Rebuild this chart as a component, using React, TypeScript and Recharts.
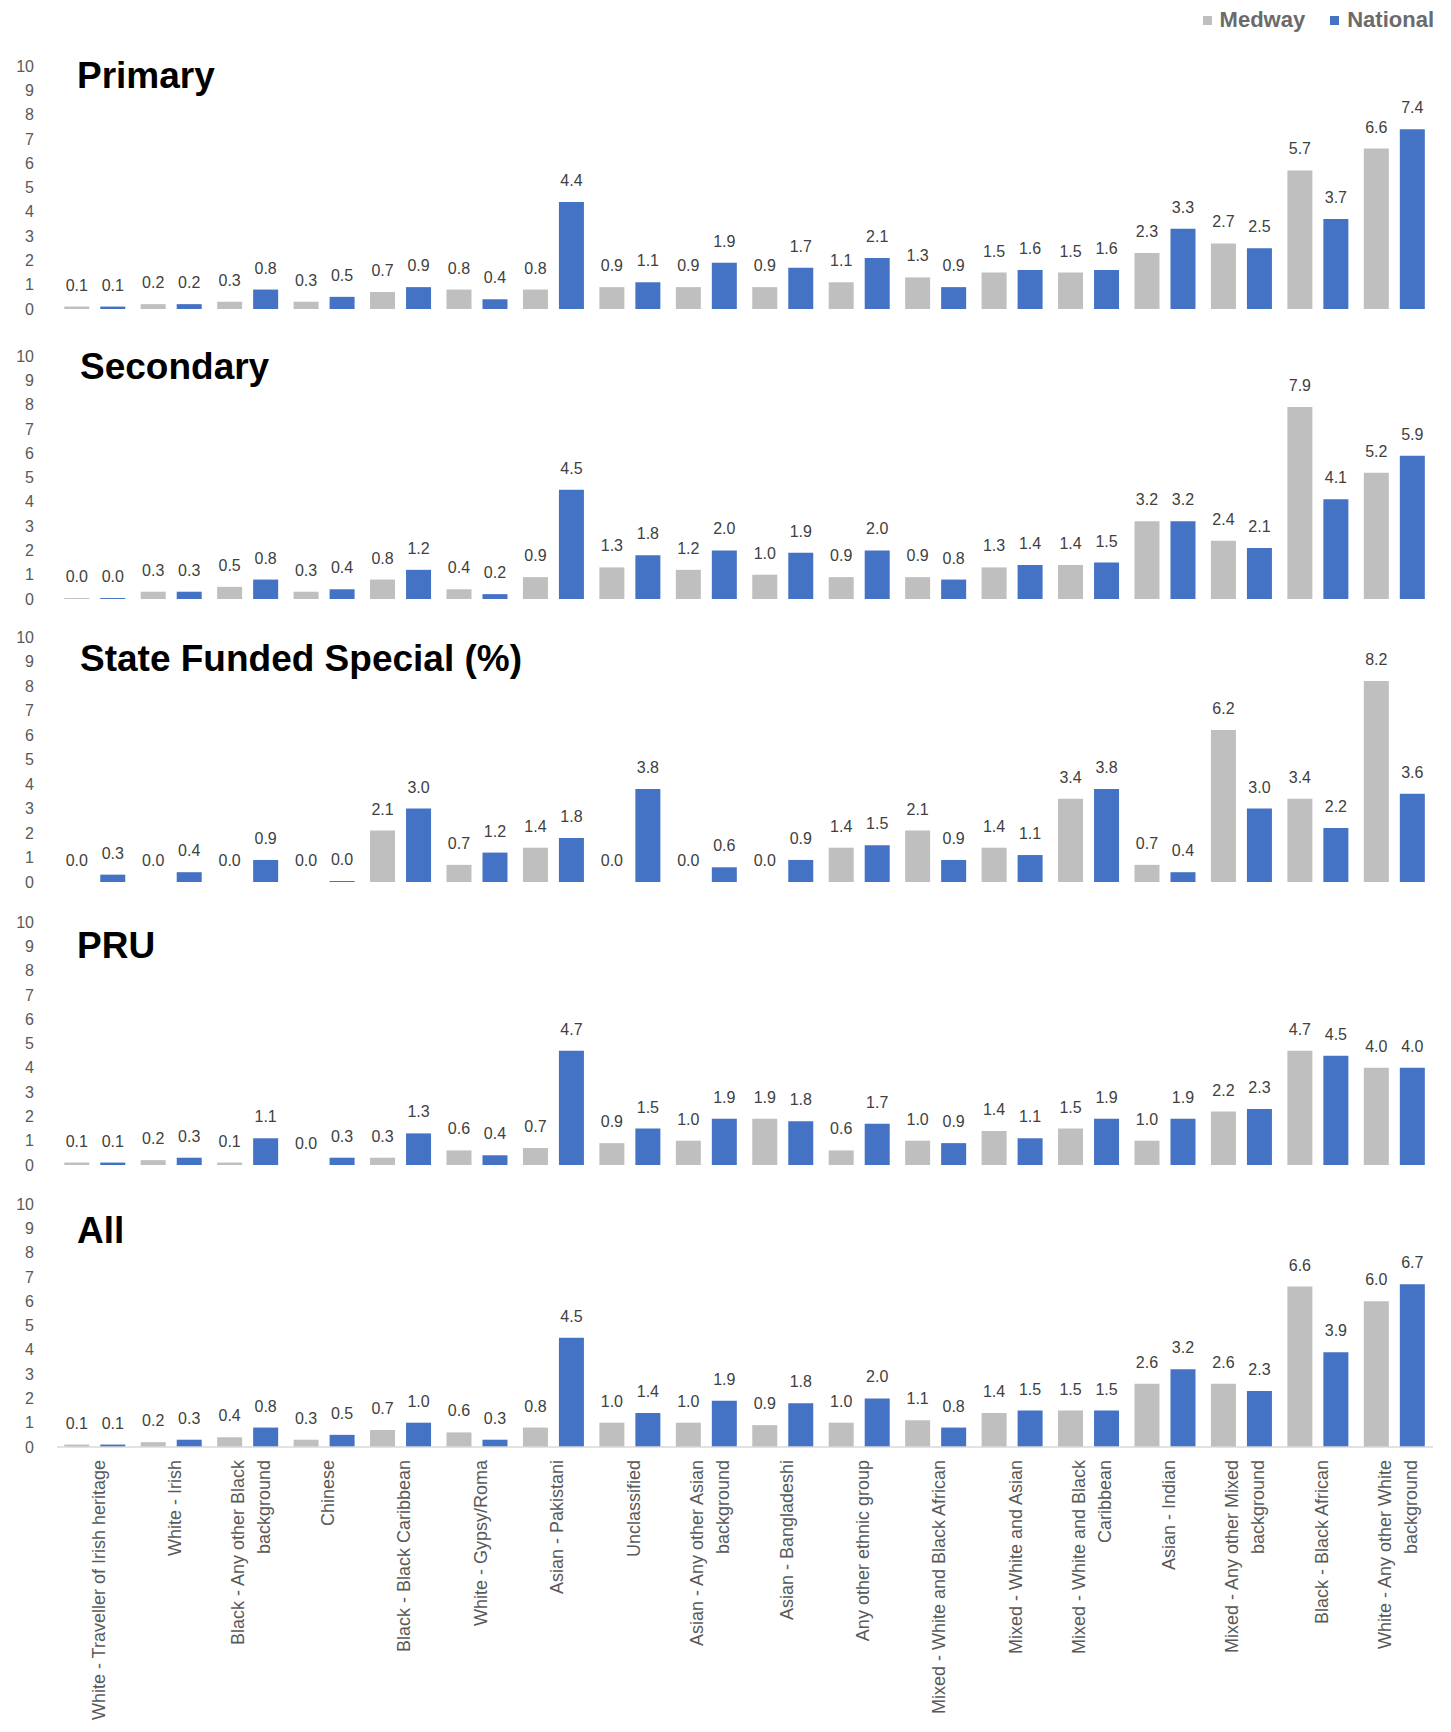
import React from "react";
import { BarChart, Bar, XAxis, YAxis, LabelList } from "recharts";

const categories = [
  "White - Traveller of Irish heritage",
  "White - Irish",
  "Black - Any other Black background",
  "Chinese",
  "Black - Black Caribbean",
  "White - Gypsy/Roma",
  "Asian - Pakistani",
  "Unclassified",
  "Asian - Any other Asian background",
  "Asian - Bangladeshi",
  "Any other ethnic group",
  "Mixed - White and Black African",
  "Mixed - White and Asian",
  "Mixed - White and Black Caribbean",
  "Asian - Indian",
  "Mixed - Any other Mixed background",
  "Black - Black African",
  "White - Any other White background",
];

// axis labels as they wrap under the bottom panel
const tickLines = [
  ["White - Traveller of Irish heritage"],
  ["White - Irish"],
  ["Black - Any other Black", "background"],
  ["Chinese"],
  ["Black - Black Caribbean"],
  ["White - Gypsy/Roma"],
  ["Asian - Pakistani"],
  ["Unclassified"],
  ["Asian - Any other Asian", "background"],
  ["Asian - Bangladeshi"],
  ["Any other ethnic group"],
  ["Mixed - White and Black African"],
  ["Mixed - White and Asian"],
  ["Mixed - White and Black", "Caribbean"],
  ["Asian - Indian"],
  ["Mixed - Any other Mixed", "background"],
  ["Black - Black African"],
  ["White - Any other White", "background"],
];

const yTicks = [0, 1, 2, 3, 4, 5, 6, 7, 8, 9, 10];

// percentages; "0.0" entries are kept just above zero so their labels still render
const primaryMedway = [0.1, 0.2, 0.3, 0.3, 0.7, 0.8, 0.8, 0.9, 0.9, 0.9, 1.1, 1.3, 1.5, 1.5, 2.3, 2.7, 5.7, 6.6];
const primaryNational = [0.1, 0.2, 0.8, 0.5, 0.9, 0.4, 4.4, 1.1, 1.9, 1.7, 2.1, 0.9, 1.6, 1.6, 3.3, 2.5, 3.7, 7.4];

const secondaryMedway = [0.04, 0.3, 0.5, 0.3, 0.8, 0.4, 0.9, 1.3, 1.2, 1.0, 0.9, 0.9, 1.3, 1.4, 3.2, 2.4, 7.9, 5.2];
const secondaryNational = [0.04, 0.3, 0.8, 0.4, 1.2, 0.2, 4.5, 1.8, 2.0, 1.9, 2.0, 0.8, 1.4, 1.5, 3.2, 2.1, 4.1, 5.9];

const specialMedway = [0.001, 0.001, 0.001, 0.001, 2.1, 0.7, 1.4, 0.001, 0.001, 0.001, 1.4, 2.1, 1.4, 3.4, 0.7, 6.2, 3.4, 8.2];
const specialNational = [0.3, 0.4, 0.9, 0.04, 3.0, 1.2, 1.8, 3.8, 0.6, 0.9, 1.5, 0.9, 1.1, 3.8, 0.4, 3.0, 2.2, 3.6];

const pruMedway = [0.1, 0.2, 0.1, 0.001, 0.3, 0.6, 0.7, 0.9, 1.0, 1.9, 0.6, 1.0, 1.4, 1.5, 1.0, 2.2, 4.7, 4.0];
const pruNational = [0.1, 0.3, 1.1, 0.3, 1.3, 0.4, 4.7, 1.5, 1.9, 1.8, 1.7, 0.9, 1.1, 1.9, 1.9, 2.3, 4.5, 4.0];

const allMedway = [0.1, 0.2, 0.4, 0.3, 0.7, 0.6, 0.8, 1.0, 1.0, 0.9, 1.0, 1.1, 1.4, 1.5, 2.6, 2.6, 6.6, 6.0];
const allNational = [0.1, 0.3, 0.8, 0.5, 1.0, 0.3, 4.5, 1.4, 1.9, 1.8, 2.0, 0.8, 1.5, 1.5, 3.2, 2.3, 3.9, 6.7];

const MEDWAY = "#BFBFBF";
const NATIONAL = "#4472C4";
const WIDTH = 1451;
const HEIGHT = 1732;
const FONT = "'Liberation Sans', Arial, sans-serif";

const panels = [
  { title: "Primary", medway: primaryMedway, national: primaryNational, top: 66, bottom: 309, titleY: 88, titleX: 77 },
  { title: "Secondary", medway: secondaryMedway, national: secondaryNational, top: 356, bottom: 599, titleY: 379, titleX: 80 },
  { title: "State Funded Special (%)", medway: specialMedway, national: specialNational, top: 637, bottom: 882, titleY: 671, titleX: 80 },
  { title: "PRU", medway: pruMedway, national: pruNational, top: 922, bottom: 1165, titleY: 958, titleX: 77 },
  { title: "All", medway: allMedway, national: allNational, top: 1204, bottom: 1447, titleY: 1243, titleX: 77 },
];

const MARGIN_TOP = 20;
const MARGIN_BOTTOM = 14;

function CategoryTick({ x, y, payload }: any) {
  const idx = categories.indexOf(payload.value);
  const lines = tickLines[idx] || [payload.value];
  const gap = 26;
  return (
    <g>
      {lines.map((line, i) => {
        const tx = x + 3 + (i - (lines.length - 1) / 2) * gap;
        const ty = y + 13;
        return (
          <text
            key={i}
            x={tx}
            y={ty}
            dy="0.35em"
            textAnchor="end"
            transform={`rotate(-90, ${tx}, ${ty})`}
            fontSize={18}
            fontFamily={FONT}
            fill="#595959"
          >
            {line}
          </text>
        );
      })}
    </g>
  );
}

function Panel({ panel, last }: { panel: (typeof panels)[number]; last: boolean }) {
  const rows = categories.map((name, i) => ({
    name,
    medway: panel.medway[i],
    national: panel.national[i],
  }));
  const plotH = panel.bottom - panel.top;
  const axisH = HEIGHT - panel.bottom;
  const chartTop = panel.top - MARGIN_TOP;
  const chartH = MARGIN_TOP + plotH + (last ? axisH : MARGIN_BOTTOM);
  const fmt = (v: any) => Number(v).toFixed(1);

  return (
    <div style={{ position: "absolute", left: 0, top: chartTop }}>
      <BarChart
        width={WIDTH}
        height={chartH}
        data={rows}
        margin={{ top: MARGIN_TOP, right: 18, bottom: last ? 0 : MARGIN_BOTTOM, left: 0 }}
        barCategoryGap="9.5%"
        barGap={11}
      >
        <XAxis
          dataKey="name"
          hide={!last}
          interval={0}
          height={last ? axisH : 0}
          tickLine={false}
          tickSize={0}
          tickMargin={0}
          axisLine={{ stroke: "#D9D9D9", strokeWidth: 1.5 }}
          tick={<CategoryTick />}
        />
        <YAxis
          domain={[0, 10]}
          ticks={yTicks}
          interval={0}
          width={57}
          axisLine={false}
          tickLine={false}
          tickSize={0}
          tickMargin={23}
          tick={{ fontSize: 16, fill: "#595959", fontFamily: FONT }}
        />
        <Bar dataKey="medway" name="Medway" fill={MEDWAY} isAnimationActive={false}>
          <LabelList dataKey="medway" position="top" offset={16} formatter={fmt} fontSize={16} fill="#404040" fontFamily={FONT} />
        </Bar>
        <Bar dataKey="national" name="National" fill={NATIONAL} isAnimationActive={false}>
          <LabelList dataKey="national" position="top" offset={16} formatter={fmt} fontSize={16} fill="#404040" fontFamily={FONT} />
        </Bar>
      </BarChart>
      <div
        style={{
          position: "absolute",
          left: panel.titleX,
          top: panel.titleY - 31 - chartTop,
          fontSize: 37,
          lineHeight: "37px",
          fontWeight: "bold",
          fontFamily: FONT,
          color: "#000",
          whiteSpace: "nowrap",
        }}
      >
        {panel.title}
      </div>
    </div>
  );
}

function LegendKey({ color, label, first }: { color: string; label: string; first?: boolean }) {
  return (
    <div style={{ display: "flex", alignItems: "center", marginLeft: first ? 0 : 25 }}>
      <span style={{ width: 9, height: 9, background: color, marginRight: 8, display: "inline-block" }} />
      <span style={{ fontSize: 22, fontWeight: "bold", color: "#6B6B6B", fontFamily: FONT }}>{label}</span>
    </div>
  );
}

export default function App() {
  return (
    <div
      style={{
        position: "absolute",
        left: 0,
        top: 0,
        width: WIDTH,
        height: HEIGHT,
        overflow: "hidden",
        background: "#fff",
      }}
    >
      {panels.map((p, i) => (
        <Panel key={p.title} panel={p} last={i === panels.length - 1} />
      ))}
      <div style={{ position: "absolute", right: 17, top: 7, display: "flex" }}>
        <LegendKey color={MEDWAY} label="Medway" first />
        <LegendKey color={NATIONAL} label="National" />
      </div>
    </div>
  );
}
